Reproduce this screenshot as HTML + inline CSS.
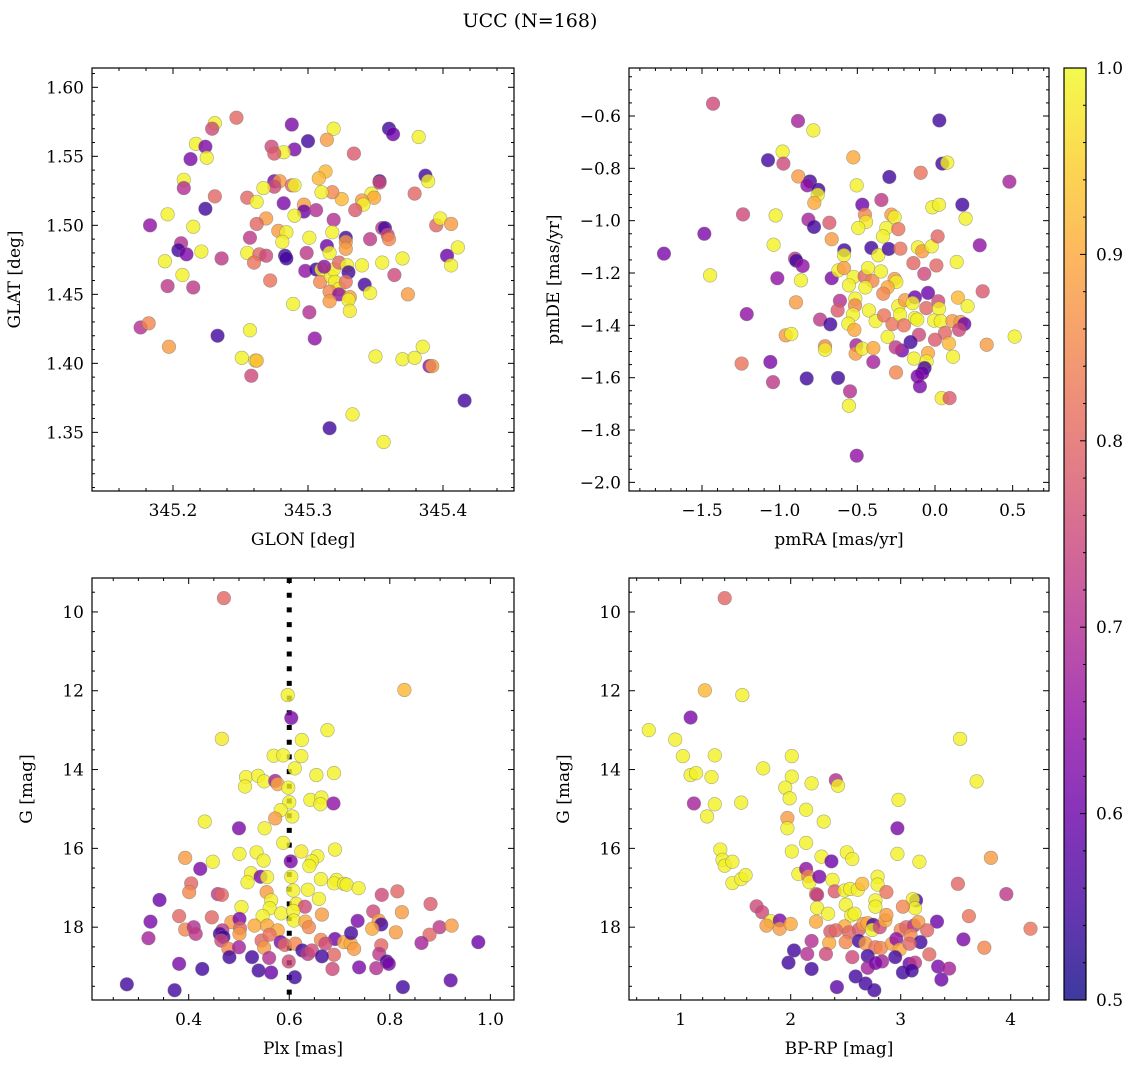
<!DOCTYPE html>
<html><head><meta charset="utf-8">
<style>
html,body{margin:0;padding:0;background:#fff;}
svg{display:block;font-family:"DejaVu Serif","Liberation Serif",serif;}
</style></head>
<body>
<svg id="fig" width="1136" height="1068" viewBox="0 0 1136 1068" xmlns="http://www.w3.org/2000/svg">
<rect width="1136" height="1068" fill="#fff"/>
<text x="530" y="27" font-size="19" text-anchor="middle">UCC (N=168)</text>
</svg>
<script>
// ---- Panel 1: GLON / GLAT ----
const glon=[345.247,345.231,345.229,345.217,345.224,345.225,345.213,345.208,345.208,345.231,345.224,345.196,345.183,345.215,345.206,345.204,345.210,345.221,345.194,345.236,345.207,345.196,345.215,345.176,345.182,345.197,345.233,345.257,345.251,345.261,345.262,345.258,345.289,345.301,345.305,345.316,345.333,345.356,345.350,345.370,345.379,345.385,345.390,345.392,345.416,345.374,345.364,345.370,345.355,345.340,345.342,345.346,345.403,345.406,345.411,345.395,345.398,345.406,345.379,345.387,345.389,345.382,345.360,345.363,345.353,345.353,345.334,345.347,345.349,345.340,345.341,345.335,345.325,345.318,345.310,345.313,345.308,345.319,345.314,345.300,345.288,345.290,345.282,345.273,345.275,345.275,345.279,345.275,345.288,345.290,345.267,345.255,345.262,345.282,345.297,345.297,345.306,345.290,345.319,345.269,345.262,345.257,345.278,345.284,345.281,345.301,345.318,345.328,345.328,345.328,345.314,345.316,345.299,345.283,345.284,345.255,345.264,345.269,345.260,345.272,345.298,345.306,345.310,345.309,345.317,345.319,345.323,345.329,345.330,345.320,345.323,345.316,345.323,345.331,345.330,345.331,345.316,345.328,345.346,345.355,345.357,345.359,345.360,345.312];
const glat=[1.578,1.574,1.570,1.559,1.557,1.549,1.548,1.533,1.527,1.521,1.512,1.508,1.500,1.499,1.487,1.482,1.479,1.481,1.474,1.476,1.464,1.456,1.455,1.426,1.429,1.412,1.420,1.424,1.404,1.402,1.402,1.391,1.443,1.437,1.418,1.353,1.363,1.343,1.405,1.403,1.404,1.412,1.398,1.398,1.373,1.450,1.464,1.476,1.473,1.471,1.457,1.451,1.478,1.471,1.484,1.500,1.505,1.501,1.523,1.536,1.532,1.564,1.570,1.566,1.532,1.531,1.552,1.523,1.520,1.518,1.515,1.511,1.519,1.524,1.524,1.539,1.534,1.570,1.562,1.561,1.573,1.555,1.553,1.557,1.552,1.532,1.532,1.528,1.529,1.529,1.527,1.520,1.517,1.516,1.515,1.510,1.511,1.507,1.504,1.505,1.501,1.491,1.496,1.495,1.488,1.491,1.495,1.491,1.488,1.483,1.485,1.480,1.480,1.478,1.476,1.480,1.479,1.478,1.473,1.460,1.467,1.468,1.468,1.459,1.463,1.468,1.473,1.471,1.466,1.459,1.454,1.452,1.450,1.448,1.446,1.438,1.445,1.459,1.490,1.498,1.498,1.493,1.490,1.470];
const prob1=[0.8,0.99,0.75,0.99,0.62,0.99,0.62,0.99,0.7,0.8,0.55,0.99,0.65,0.99,0.7,0.55,0.62,0.99,0.99,0.72,0.99,0.72,0.72,0.7,0.85,0.88,0.55,0.99,0.99,0.99,0.92,0.75,0.99,0.7,0.65,0.55,0.99,0.99,0.99,0.99,0.99,0.99,0.65,0.88,0.55,0.88,0.75,0.99,0.99,0.99,0.55,0.99,0.6,0.99,0.99,0.8,0.99,0.88,0.8,0.55,0.99,0.99,0.55,0.6,0.55,0.75,0.78,0.99,0.9,0.88,0.99,0.78,0.92,0.85,0.99,0.92,0.92,0.99,0.88,0.55,0.62,0.62,0.99,0.75,0.78,0.62,0.88,0.75,0.8,0.99,0.99,0.8,0.99,0.62,0.88,0.6,0.7,0.99,0.7,0.88,0.8,0.72,0.88,0.99,0.99,0.99,0.99,0.55,0.88,0.88,0.6,0.99,0.72,0.55,0.55,0.99,0.8,0.75,0.82,0.82,0.65,0.55,0.99,0.85,0.98,0.99,0.8,0.99,0.55,0.99,0.98,0.85,0.65,0.88,0.99,0.98,0.88,0.82,0.72,0.72,0.55,0.75,0.85,0.65];
// ---- Panel 2: pmRA / pmDE ----
const pmra=[-1.429,-0.882,-0.783,0.028,-0.981,-1.075,-0.976,-0.526,-0.880,-0.805,-0.822,-0.751,-0.755,-0.777,-0.504,-0.294,-0.092,0.047,0.079,0.479,-0.468,-0.345,-0.451,-0.444,-0.494,-0.281,-0.260,-0.313,-0.236,-0.335,-0.017,0.026,0.176,0.197,-1.236,-1.026,-0.815,-0.779,-0.680,-0.665,-1.485,-1.745,-1.039,-1.448,-0.901,-0.893,-0.852,-1.015,-0.863,-0.665,-0.584,-0.586,-0.410,-0.365,-0.298,-0.223,-0.110,-0.082,-0.021,0.017,0.140,0.288,-0.139,-0.069,0.009,-0.622,-0.586,-0.524,-0.554,-0.453,-0.431,-0.403,-0.448,-0.348,-0.260,-0.249,-0.305,-0.333,-0.045,0.307,0.148,0.210,-0.612,-0.627,-0.513,-0.515,-0.528,-0.895,-1.212,-0.740,-0.674,-0.558,-0.519,-0.425,-0.382,-0.328,-0.274,-0.236,-0.225,-0.193,-0.129,-0.144,-0.129,-0.114,-0.056,0.021,0.026,-0.006,0.037,0.112,0.165,0.189,0.155,0.064,-0.200,-0.961,-0.925,-0.305,-0.103,0.000,0.090,0.333,0.513,-0.157,-0.212,-0.253,-0.708,-0.708,-0.506,-0.511,-0.468,-0.397,-0.397,-0.135,-0.045,-0.054,-0.067,-0.082,-0.112,-0.097,0.116,-0.251,-1.245,-1.060,-1.043,-0.826,-0.624,-0.547,-0.554,0.043,0.094,-0.504];
const pmde=[-0.553,-0.619,-0.655,-0.617,-0.736,-0.769,-0.782,-0.758,-0.831,-0.850,-0.865,-0.882,-0.901,-0.932,-0.865,-0.833,-0.817,-0.782,-0.778,-0.851,-0.939,-0.921,-0.977,-1.005,-1.028,-0.977,-0.987,-1.028,-1.032,-1.060,-0.949,-0.939,-0.939,-0.992,-0.976,-0.980,-0.996,-1.024,-1.008,-1.071,-1.050,-1.126,-1.092,-1.209,-1.145,-1.153,-1.173,-1.220,-1.228,-1.220,-1.113,-1.132,-1.104,-1.132,-1.108,-1.107,-1.102,-1.117,-1.098,-1.060,-1.158,-1.094,-1.162,-1.203,-1.171,-1.190,-1.181,-1.215,-1.247,-1.213,-1.181,-1.230,-1.255,-1.194,-1.223,-1.234,-1.255,-1.279,-1.276,-1.270,-1.294,-1.327,-1.306,-1.343,-1.298,-1.324,-1.359,-1.312,-1.357,-1.378,-1.396,-1.394,-1.417,-1.343,-1.384,-1.362,-1.395,-1.327,-1.359,-1.304,-1.293,-1.315,-1.372,-1.378,-1.334,-1.308,-1.336,-1.382,-1.384,-1.384,-1.387,-1.395,-1.417,-1.429,-1.400,-1.438,-1.433,-1.444,-1.436,-1.455,-1.469,-1.474,-1.443,-1.464,-1.496,-1.484,-1.480,-1.493,-1.476,-1.508,-1.489,-1.487,-1.540,-1.527,-1.506,-1.538,-1.563,-1.582,-1.595,-1.633,-1.520,-1.580,-1.546,-1.540,-1.617,-1.603,-1.601,-1.652,-1.707,-1.678,-1.678,-1.898];
const prob2=[0.75,0.68,0.99,0.55,0.99,0.55,0.75,0.9,0.88,0.55,0.65,0.55,0.99,0.9,0.99,0.55,0.82,0.55,0.99,0.68,0.6,0.72,0.85,0.98,0.99,0.88,0.99,0.99,0.82,0.99,0.99,0.99,0.55,0.99,0.75,0.99,0.68,0.55,0.78,0.88,0.62,0.62,0.99,0.99,0.72,0.55,0.65,0.65,0.99,0.62,0.55,0.99,0.55,0.99,0.55,0.82,0.99,0.88,0.99,0.8,0.99,0.65,0.8,0.75,0.8,0.99,0.88,0.99,0.99,0.8,0.99,0.85,0.99,0.99,0.88,0.99,0.9,0.85,0.6,0.78,0.92,0.99,0.7,0.78,0.99,0.85,0.99,0.88,0.65,0.72,0.55,0.99,0.9,0.99,0.99,0.82,0.82,0.99,0.99,0.88,0.6,0.99,0.99,0.99,0.8,0.75,0.99,0.99,0.99,0.88,0.88,0.6,0.75,0.8,0.82,0.88,0.99,0.99,0.75,0.78,0.92,0.88,0.99,0.55,0.62,0.72,0.85,0.99,0.68,0.88,0.99,0.9,0.68,0.99,0.9,0.99,0.55,0.6,0.62,0.62,0.99,0.85,0.82,0.62,0.72,0.55,0.55,0.7,0.99,0.98,0.78,0.65];
// ---- Panel 3: Plx / G ----
const plx=[0.470,0.829,0.597,0.604,0.466,0.676,0.625,0.569,0.588,0.624,0.611,0.654,0.689,0.514,0.512,0.538,0.550,0.572,0.577,0.598,0.600,0.642,0.664,0.662,0.688,0.583,0.606,0.572,0.432,0.551,0.500,0.588,0.624,0.691,0.501,0.535,0.549,0.603,0.656,0.645,0.640,0.393,0.448,0.423,0.524,0.543,0.556,0.604,0.517,0.663,0.694,0.689,0.709,0.714,0.738,0.405,0.401,0.458,0.466,0.555,0.608,0.637,0.784,0.815,0.342,0.659,0.564,0.614,0.881,0.505,0.561,0.631,0.824,0.767,0.584,0.608,0.665,0.324,0.381,0.446,0.485,0.501,0.547,0.609,0.632,0.736,0.778,0.783,0.393,0.410,0.414,0.467,0.462,0.469,0.502,0.501,0.531,0.556,0.577,0.639,0.765,0.812,0.899,0.923,0.879,0.320,0.465,0.545,0.561,0.583,0.591,0.612,0.663,0.691,0.709,0.722,0.729,0.723,0.783,0.863,0.976,0.479,0.500,0.550,0.626,0.637,0.645,0.672,0.689,0.665,0.779,0.481,0.526,0.560,0.599,0.794,0.798,0.381,0.427,0.539,0.564,0.686,0.739,0.773,0.611,0.277,0.372,0.826,0.921];
const g3=[9.65,11.98,12.11,12.69,13.22,13.00,13.25,13.65,13.64,13.66,13.97,14.14,14.09,14.19,14.43,14.16,14.30,14.29,14.37,14.46,14.83,14.77,14.71,14.88,14.86,15.03,15.19,15.24,15.32,15.49,15.49,15.86,16.08,16.03,16.14,16.10,16.31,16.33,16.20,16.33,16.45,16.24,16.34,16.52,16.63,16.72,16.73,16.72,16.86,16.78,16.80,16.89,16.90,16.92,17.01,16.89,17.11,17.16,17.18,17.11,17.07,17.05,17.18,17.09,17.31,17.28,17.32,17.41,17.41,17.49,17.52,17.48,17.62,17.60,17.65,17.59,17.68,17.86,17.72,17.75,17.87,17.79,17.72,17.83,17.86,17.84,17.83,17.93,18.06,18.00,18.17,18.08,18.17,18.25,18.03,18.17,17.96,17.96,18.08,18.00,18.04,18.13,18.00,17.96,18.19,18.28,18.34,18.34,18.19,18.38,18.45,18.42,18.32,18.30,18.38,18.41,18.55,18.15,18.46,18.40,18.38,18.55,18.51,18.52,18.59,18.68,18.59,18.42,18.70,18.74,18.68,18.76,18.76,18.78,18.87,18.87,18.93,18.93,19.06,19.10,19.15,19.06,19.02,19.04,19.27,19.45,19.60,19.52,19.35];
const prob3=[0.8,0.92,0.99,0.62,0.98,0.99,0.99,0.99,0.99,0.99,0.99,0.99,0.99,0.99,0.99,0.99,0.99,0.68,0.9,0.99,0.99,0.99,0.99,0.99,0.65,0.99,0.99,0.88,0.99,0.99,0.62,0.99,0.98,0.99,0.99,0.99,0.99,0.62,0.99,0.99,0.99,0.88,0.99,0.62,0.99,0.62,0.99,0.99,0.99,0.99,0.99,0.99,0.99,0.99,0.99,0.8,0.85,0.72,0.8,0.88,0.99,0.99,0.75,0.8,0.6,0.99,0.99,0.98,0.78,0.99,0.99,0.75,0.88,0.75,0.99,0.99,0.88,0.62,0.8,0.8,0.88,0.62,0.99,0.99,0.9,0.62,0.88,0.55,0.85,0.7,0.72,0.72,0.55,0.55,0.8,0.88,0.9,0.9,0.9,0.85,0.9,0.88,0.72,0.88,0.8,0.68,0.75,0.8,0.82,0.62,0.8,0.85,0.85,0.6,0.9,0.9,0.88,0.55,0.8,0.68,0.6,0.85,0.68,0.88,0.55,0.72,0.75,0.75,0.8,0.55,0.72,0.55,0.55,0.7,0.75,0.55,0.62,0.62,0.55,0.55,0.6,0.75,0.62,0.7,0.55,0.55,0.55,0.55,0.58];
// ---- Panel 4: BP-RP / G ----
const bprp=[1.40,1.22,1.56,1.09,0.71,0.95,1.02,1.31,1.09,1.14,1.28,1.12,1.31,1.24,1.55,1.75,2.01,2.01,1.95,1.99,2.19,2.41,2.43,2.14,2.30,1.97,1.97,2.98,2.97,3.54,3.69,1.36,1.38,1.40,1.47,1.47,1.55,1.59,2.01,2.14,2.28,2.37,2.51,2.56,2.97,3.17,3.82,2.07,2.14,2.16,2.17,2.26,2.38,2.23,2.24,2.40,2.49,2.54,2.61,2.65,2.79,2.79,2.87,2.77,2.77,3.14,3.11,3.13,3.02,3.52,3.96,3.62,4.18,3.76,3.57,3.33,1.69,1.74,1.82,1.78,1.90,1.90,2.00,2.24,2.34,2.23,2.50,2.55,2.58,2.49,2.36,2.41,2.53,2.62,2.66,2.70,2.75,2.74,2.81,2.86,2.87,3.00,3.05,3.12,3.16,3.24,3.09,3.18,2.35,2.50,2.62,2.68,2.77,2.82,2.92,2.96,2.99,3.08,2.19,2.03,2.15,2.32,2.56,2.70,2.83,2.70,2.77,2.95,3.08,3.13,3.02,3.10,3.26,3.34,3.44,3.37,1.98,2.19,2.59,2.68,2.76,2.42];
const g4=[9.65,11.99,12.11,12.68,13.00,13.24,13.66,13.64,14.14,14.09,14.19,14.86,14.88,15.19,14.84,13.97,13.66,14.18,14.46,14.73,14.35,14.27,14.41,15.02,15.32,15.23,15.49,14.77,15.49,13.22,14.30,16.03,16.29,16.44,16.34,16.88,16.78,16.68,16.08,15.86,16.21,16.33,16.10,16.27,16.14,16.34,16.24,16.65,16.52,16.71,16.86,16.72,16.80,17.16,17.18,17.09,17.07,17.03,17.05,16.90,16.72,16.92,17.11,17.32,17.48,17.32,17.29,17.52,17.48,16.90,17.16,17.72,18.04,18.52,18.31,17.86,17.47,17.62,17.85,17.96,17.83,18.04,17.92,17.51,17.66,17.86,17.43,17.70,17.66,17.98,18.11,18.08,18.13,18.06,17.92,17.90,17.94,18.07,18.00,17.83,17.69,18.07,18.00,17.96,17.87,18.08,18.21,18.38,18.40,18.38,18.35,18.41,18.51,18.53,18.42,18.30,18.57,18.42,18.35,18.59,18.68,18.68,18.76,18.73,18.87,19.03,18.91,18.76,18.93,18.90,19.15,19.10,18.69,19.00,19.05,19.33,18.90,19.06,19.25,19.43,19.60,19.52];
const prob4=[0.8,0.92,0.99,0.62,0.99,0.99,0.99,0.99,0.99,0.99,0.99,0.68,0.99,0.99,0.99,0.99,0.99,0.99,0.99,0.99,0.99,0.7,0.99,0.99,0.99,0.88,0.99,0.99,0.62,0.99,0.99,0.99,0.99,0.99,0.99,0.99,0.99,0.99,0.99,0.99,0.99,0.6,0.99,0.99,0.99,0.99,0.88,0.99,0.65,0.85,0.99,0.62,0.99,0.85,0.72,0.78,0.99,0.99,0.99,0.92,0.99,0.99,0.82,0.99,0.99,0.55,0.99,0.99,0.85,0.8,0.72,0.82,0.82,0.85,0.62,0.6,0.75,0.75,0.99,0.88,0.62,0.88,0.9,0.99,0.99,0.9,0.99,0.99,0.99,0.9,0.78,0.8,0.8,0.78,0.88,0.9,0.55,0.99,0.75,0.9,0.88,0.85,0.8,0.72,0.88,0.8,0.85,0.55,0.9,0.85,0.55,0.88,0.82,0.85,0.88,0.65,0.9,0.8,0.7,0.55,0.7,0.75,0.75,0.55,0.68,0.68,0.62,0.55,0.6,0.72,0.55,0.55,0.8,0.62,0.68,0.6,0.55,0.55,0.55,0.55,0.55,0.58];
const cbTicks=[0.5,0.6,0.7,0.8,0.9,1.0];

const NS="http://www.w3.org/2000/svg";
const svg=document.getElementById('fig');
function el(tag,attrs,parent){const e=document.createElementNS(NS,tag);for(const k in attrs)e.setAttribute(k,attrs[k]);(parent||svg).appendChild(e);return e;}
const plasma=[[13,8,135],[65,4,157],[106,0,168],[143,13,164],[177,42,144],[204,71,120],[225,100,98],[242,132,75],[252,166,54],[252,206,37],[240,249,33]];
function cmap(v){let t=(v-0.5)/0.5;t=Math.max(0,Math.min(1,t));const f=t*10,i=Math.min(9,Math.floor(f)),u=f-i;const a=plasma[i],b=plasma[i+1];return 'rgb('+a.map((c,k)=>Math.round(c+(b[k]-c)*u)).join(',')+')';}
function lin(d0,d1,p0,p1){return v=>p0+(v-d0)/(d1-d0)*(p1-p0);}
function fmt(v,dec){const s=Math.abs(v).toFixed(dec);return (v<-1e-9?'\u2212':'')+s;}

function panel(o){
  const g=el('g',{});
  
  
  const sx=lin(o.xd[0],o.xd[1],o.L,o.R), sy=lin(o.yd[0],o.yd[1],o.T,o.B);
  const clipId='clip-'+o.name;
  const cp=el('clipPath',{id:clipId},g);el('rect',{x:o.L,y:o.T,width:o.R-o.L,height:o.B-o.T},cp);
  const pts=el('g',{'clip-path':'url(#'+clipId+')'},g);
  
  
  if(o.vline!==undefined){
    const ln=el('line',{x1:sx(o.vline),x2:sx(o.vline),y1:o.T,y2:o.B,stroke:'#000','stroke-width':5,'stroke-dasharray':'5 9.7'},pts);
    
    
  }
  for(let i=0;i<o.x.length;i++){
    const c=el('circle',{cx:sx(o.x[i]),cy:sy(o.y[i]),r:6.8,fill:cmap(o.c[i]),'fill-opacity':0.8,stroke:'#777','stroke-opacity':0.6,'stroke-width':0.6},pts);
    
    
  }
  el('rect',{x:o.L,y:o.T,width:o.R-o.L,height:o.B-o.T,fill:'none',stroke:'#000','stroke-width':1.2},g);
  const tk=el('g',{stroke:'#000','stroke-width':1},g);
  const eps=1e-9;
  for(let v=Math.ceil(o.xd[0]/o.xmin-eps)*o.xmin;v<=o.xd[1]+eps;v+=o.xmin){
    const major=Math.abs(v/o.xmaj-Math.round(v/o.xmaj))<1e-6;const len=major?6:3;const x=sx(v);
    el('line',{x1:x,x2:x,y1:o.B,y2:o.B-len},tk);el('line',{x1:x,x2:x,y1:o.T,y2:o.T+len},tk);
  }
  const ylo=Math.min(o.yd[0],o.yd[1]),yhi=Math.max(o.yd[0],o.yd[1]);
  for(let v=Math.ceil(ylo/o.ymin-eps)*o.ymin;v<=yhi+eps;v+=o.ymin){
    const major=Math.abs(v/o.ymaj-Math.round(v/o.ymaj))<1e-6;const len=major?6:3;const y=sy(v);
    el('line',{x1:o.L,x2:o.L+len,y1:y,y2:y},tk);el('line',{x1:o.R,x2:o.R-len,y1:y,y2:y},tk);
  }
  for(const v of o.xticks){const t=el('text',{x:sx(v),y:o.B+25,'font-size':17,'text-anchor':'middle'},g);t.textContent=fmt(v,o.xdec);
    
    }
  for(const v of o.yticks){const t=el('text',{x:o.L-8,y:sy(v)+6,'font-size':17,'text-anchor':'end'},g);t.textContent=fmt(v,o.ydec);
    
    }
  const xl=el('text',{x:(o.L+o.R)/2,y:o.B+54,'font-size':17,'text-anchor':'middle'},g);xl.textContent=o.xlabel;
  
  
  const yx=o.L-o.ylabOff, yy=(o.T+o.B)/2;
  const yl=el('text',{x:yx,y:yy,'font-size':17,'text-anchor':'middle',transform:'rotate(-90 '+yx+' '+yy+')'},g);yl.textContent=o.ylabel;
  
  
}

panel({name:'panel-glon-glat',L:92,R:514,T:68,B:491,xd:[345.140,345.4526],yd:[1.614,1.3075],x:glon,y:glat,c:prob1,
  xmaj:0.1,xmin:0.02,ymaj:0.05,ymin:0.01,xticks:[345.2,345.3,345.4],xdec:1,yticks:[1.35,1.40,1.45,1.50,1.55,1.60],ydec:2,
  xlabel:'GLON [deg]',ylabel:'GLAT [deg]',ylabOff:72});
panel({name:'panel-pmra-pmde',L:629,R:1049,T:68,B:491,xd:[-1.970,0.734],yd:[-0.4166,-2.033],x:pmra,y:pmde,c:prob2,
  xmaj:0.5,xmin:0.1,ymaj:0.2,ymin:0.05,xticks:[-1.5,-1.0,-0.5,0.0,0.5],xdec:1,yticks:[-2.0,-1.8,-1.6,-1.4,-1.2,-1.0,-0.8,-0.6],ydec:1,
  xlabel:'pmRA [mas/yr]',ylabel:'pmDE [mas/yr]',ylabOff:70});
panel({name:'panel-plx-g',L:92,R:514,T:578,B:1000,xd:[0.2077,1.047],yd:[9.139,19.848],x:plx,y:g3,c:prob3,vline:0.6,
  xmaj:0.2,xmin:0.05,ymaj:2,ymin:0.5,xticks:[0.4,0.6,0.8,1.0],xdec:1,yticks:[10,12,14,16,18],ydec:0,
  xlabel:'Plx [mas]',ylabel:'G [mag]',ylabOff:60});
panel({name:'panel-bprp-g',L:629,R:1049,T:578,B:1000,xd:[0.530,4.348],yd:[9.139,19.848],x:bprp,y:g4,c:prob4,
  xmaj:1,xmin:0.2,ymaj:2,ymin:0.5,xticks:[1,2,3,4],xdec:0,yticks:[10,12,14,16,18],ydec:0,
  xlabel:'BP-RP [mag]',ylabel:'G [mag]',ylabOff:60});

(function(){
  const L=1064,R=1086,T=68,B=1000;
  const cb=el('g',{});
  
  
  const defs=el('defs',{},cb);
  const gr=el('linearGradient',{id:'cbgrad',x1:0,y1:1,x2:0,y2:0},defs);
  for(let i=0;i<=20;i++){const v=0.5+i*0.025;el('stop',{offset:(i/20),'stop-color':cmap(v),'stop-opacity':0.8},gr);}
  el('rect',{x:L,y:T,width:R-L,height:B-T,fill:'url(#cbgrad)',stroke:'#000','stroke-width':1.2},cb);
  const sy=lin(0.5,1.0,B,T);
  for(let i=0;i<=25;i++){const v=0.5+i*0.02;const major=(i%5===0);const y=sy(v);
    el('line',{x1:R,x2:R-(major?6:3),y1:y,y2:y,stroke:'#000','stroke-width':1},cb);}
  for(const v of cbTicks){const t=el('text',{x:R+10,y:sy(v)+6,'font-size':17},cb);t.textContent=v.toFixed(1);
    
    }
})();
</script>
</body></html>
